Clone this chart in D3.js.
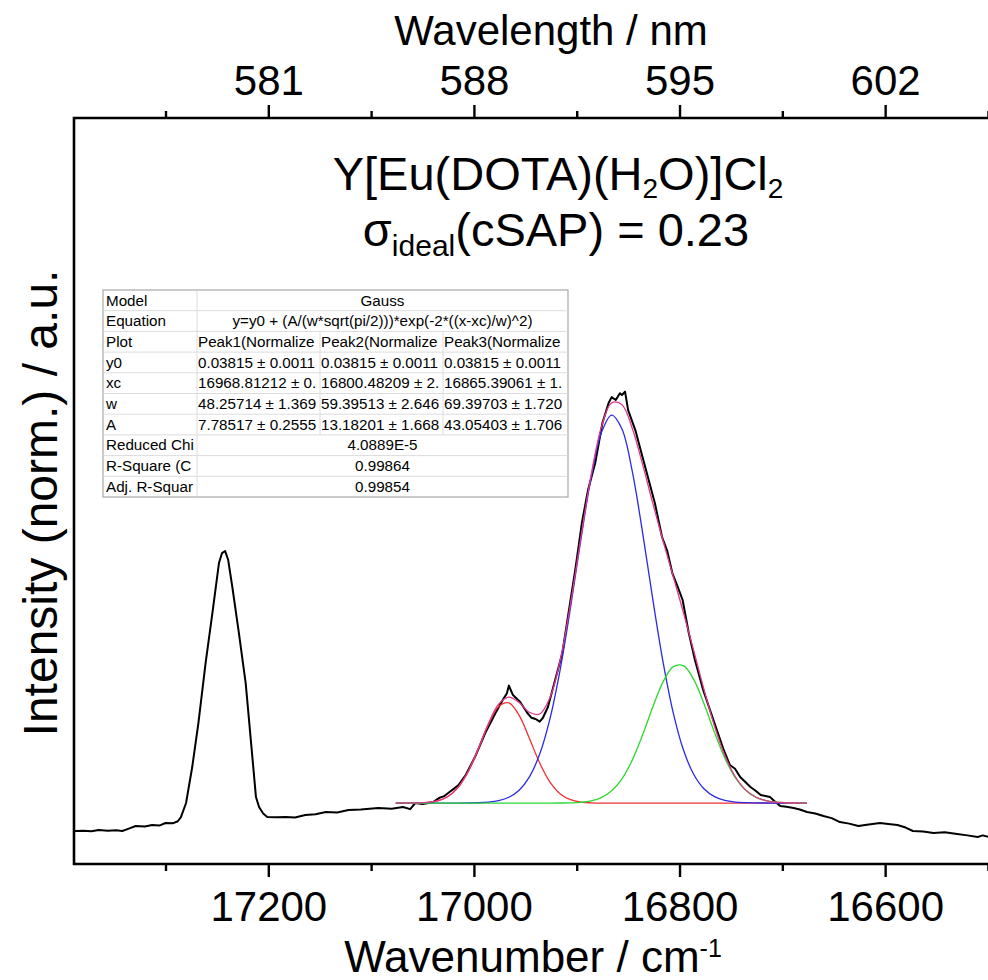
<!DOCTYPE html>
<html>
<head>
<meta charset="utf-8">
<script src="https://cdn.jsdelivr.net/npm/d3@7"></script>
<style>
  html, body { margin: 0; padding: 0; background: #fff; }
  svg { display: block; font-family: "Liberation Sans", Arial, sans-serif; }
</style>
</head>
<body>
<svg id="chart" width="988" height="980"></svg>
<script>
// ---------- data ----------
const specWn = [17388,17380,17372,17365,17356,17348,17342,17335,17329,17320,17313,17306,17300,17293,17288,17285,17280,17274,17268,17261,17254,17248,17245,17242,17239,17235,17229,17222,17217,17212,17209,17205,17201,17192,17183,17174,17164,17154,17144,17133,17122,17110,17093,17080,17069,17062,17057,17050,17044,17039,17034,17029,17025,17020,17015,17008,16999,16989,16979,16972,16968,16966,16962,16955,16948,16944,16940,16936,16933,16928,16921,16914,16908,16901,16895,16889,16882,16875,16869,16866,16862,16858,16856,16853,16850,16843,16836,16830,16824,16817,16812,16807,16802,16797,16791,16785,16777,16767,16757,16751,16746,16741,16736,16731,16726,16721,16712,16707,16702,16696,16689,16683,16676,16668,16660,16652,16644,16635,16626,16616,16605,16597,16588,16580,16573,16563,16553,16542,16530,16520,16510,16505,16499];
const specInt = [0.0026,0.0030,0.0022,0.0038,0.0030,0.0034,0.0026,0.0060,0.0089,0.0082,0.0102,0.0095,0.0128,0.0124,0.0150,0.0204,0.0383,0.0842,0.1403,0.2168,0.2844,0.3444,0.3571,0.3597,0.3482,0.3138,0.2589,0.1913,0.1186,0.0459,0.0332,0.0250,0.0204,0.0200,0.0204,0.0198,0.0230,0.0240,0.0268,0.0262,0.0293,0.0300,0.0319,0.0310,0.0332,0.0305,0.0383,0.0370,0.0383,0.0400,0.0446,0.0470,0.0510,0.0560,0.0612,0.0740,0.0969,0.1276,0.1531,0.1696,0.1780,0.1880,0.1760,0.1671,0.1531,0.1470,0.1454,0.1420,0.1467,0.1607,0.1952,0.2296,0.2806,0.3393,0.3954,0.4375,0.4719,0.5230,0.5485,0.5560,0.5523,0.5610,0.5587,0.5630,0.5395,0.5140,0.4796,0.4503,0.4209,0.3776,0.3600,0.3316,0.3150,0.2972,0.2551,0.2207,0.1824,0.1441,0.1059,0.0867,0.0820,0.0714,0.0650,0.0587,0.0540,0.0485,0.0459,0.0400,0.0344,0.0335,0.0319,0.0300,0.0268,0.0250,0.0217,0.0190,0.0140,0.0120,0.0089,0.0110,0.0128,0.0115,0.0102,0.0070,0.0026,0.0020,0.0000,0.0010,-0.0013,-0.0030,-0.0051,-0.0030,-0.0051];

// fitted curves (Gauss fit, read along the fit range)
const fitWn = [17076,17066,17056,17046,17036,17026,17016,17006,16996,16986,16976,16966,16956,16946,16936,16926,16916,16906,16896,16886,16876,16866,16856,16846,16836,16826,16816,16806,16796,16786,16776,16766,16756,16746,16736,16726,16716,16706,16696,16686,16676];
const peak1 = [0.0382,0.0382,0.0384,0.0389,0.0408,0.0459,0.0572,0.0774,0.1064,0.1380,0.1613,0.1660,0.1500,0.1206,0.0893,0.0649,0.0499,0.0425,0.0395,0.0385,0.0382,0.0382,0.0382,0.0382,0.0382,0.0382,0.0382,0.0382,0.0382,0.0382,0.0382,0.0382,0.0382,0.0382,0.0382,0.0382,0.0382,0.0382,0.0382,0.0382,0.0382];
const peak2 = [0.0382,0.0382,0.0382,0.0382,0.0382,0.0382,0.0382,0.0382,0.0382,0.0382,0.0382,0.0382,0.0382,0.0382,0.0382,0.0382,0.0383,0.0385,0.0392,0.0410,0.0452,0.0538,0.0691,0.0930,0.1249,0.1607,0.1928,0.2123,0.2133,0.1954,0.1642,0.1284,0.0958,0.0711,0.0550,0.0458,0.0413,0.0393,0.0386,0.0383,0.0382];
const peak3 = [0.0382,0.0382,0.0382,0.0382,0.0382,0.0382,0.0382,0.0383,0.0386,0.0394,0.0413,0.0456,0.0546,0.0716,0.1007,0.1460,0.2092,0.2878,0.3738,0.4532,0.5106,0.5331,0.5154,0.4616,0.3839,0.2980,0.2179,0.1526,0.1052,0.0743,0.0561,0.0464,0.0416,0.0395,0.0387,0.0384,0.0383,0.0382,0.0382,0.0382,0.0382];
const cumulative = [0.0382,0.0382,0.0384,0.0390,0.0409,0.0460,0.0572,0.0775,0.1068,0.1392,0.1644,0.1734,0.1664,0.1540,0.1518,0.1727,0.2210,0.2925,0.3762,0.4564,0.5177,0.5487,0.5463,0.5164,0.4706,0.4205,0.3725,0.3267,0.2803,0.2315,0.1821,0.1366,0.0992,0.0724,0.0554,0.0460,0.0414,0.0393,0.0386,0.0383,0.0382];

// axis ticks
const bottomMajor = [17200, 17000, 16800, 16600];
const bottomMinor = [17300, 17100, 16900, 16700, 16500];
const topMajor = [581, 588, 595, 602];
const topMinor = [577.5, 584.5, 591.5, 598.5, 605.5];

// fit table
const tableRows = ["Model","Equation","Plot","y0","xc","w","A","Reduced Chi","R-Square (C","Adj. R-Squar"];
const tableSpan = {"Model":"Gauss","Equation":"y=y0 + (A/(w*sqrt(pi/2)))*exp(-2*((x-xc)/w)^2)","Reduced Chi":"4.0889E-5","R-Square (C":"0.99864","Adj. R-Squar":"0.99854"};
const tableCols = {
  "Plot": ["Peak1(Normalize","Peak2(Normalize","Peak3(Normalize"],
  "y0":   ["0.03815 \u00b1 0.0011","0.03815 \u00b1 0.0011","0.03815 \u00b1 0.0011"],
  "xc":   ["16968.81212 \u00b1 0.","16800.48209 \u00b1 2.","16865.39061 \u00b1 1."],
  "w":    ["48.25714 \u00b1 1.369","59.39513 \u00b1 2.646","69.39703 \u00b1 1.720"],
  "A":    ["7.78517 \u00b1 0.2555","13.18201 \u00b1 1.668","43.05403 \u00b1 1.706"]
};

// ---------- layout ----------
const svg = d3.select("#chart");
const L = 74, R = 990, T = 118, B = 864;
const x = d3.scaleLinear().domain([17389, 16498]).range([L, R]);
const xTop = d3.scaleLinear().domain([574.385, 605.57]).range([L, R]);
const y = d3.scaleLinear().domain([-0.0395, 0.912]).range([B, T]);

svg.append("clipPath").attr("id","clip").append("rect")
  .attr("x", L).attr("y", T).attr("width", R - L).attr("height", B - T);

// spectrum
const specData = specWn.map((d, i) => [d, specInt[i]]);
const line = d3.line().x(d => x(d[0])).y(d => y(d[1]));
const curve = d3.line().x(d => x(d[0])).y(d => y(d[1])).curve(d3.curveCatmullRom);

const gPlot = svg.append("g").attr("clip-path","url(#clip)");
gPlot.append("path").datum(specData).attr("d", line)
  .attr("fill","none").attr("stroke","#000").attr("stroke-width",2).attr("stroke-linejoin","round");

const fits = [
  {vals: peak1, color: "#f03030"},
  {vals: peak3, color: "#2a2ae8"},
  {vals: peak2, color: "#2ed82e"},
  {vals: cumulative, color: "#e0388c"}
];
fits.forEach(f => {
  gPlot.append("path").datum(fitWn.map((d, i) => [d, f.vals[i]])).attr("d", curve)
    .attr("fill","none").attr("stroke", f.color).attr("stroke-width",1.3);
});

// frame
svg.append("path").attr("d", `M${R+5},${T}H${L}V${B}H${R+5}`)
  .attr("stroke","#000").attr("stroke-width",2.6).attr("fill","none");

// bottom axis
svg.append("g").attr("transform", `translate(0,${B})`)
  .call(d3.axisBottom(x).tickValues(bottomMajor).tickSize(13).tickPadding(14).tickFormat(d3.format("d")));
svg.append("g").attr("transform", `translate(0,${B})`)
  .call(d3.axisBottom(x).tickValues(bottomMinor).tickSize(7).tickFormat(""));
// top axis
svg.append("g").attr("transform", `translate(0,${T})`)
  .call(d3.axisTop(xTop).tickValues(topMajor).tickSize(13).tickPadding(10).tickFormat(d3.format("d")));
svg.append("g").attr("transform", `translate(0,${T})`)
  .call(d3.axisTop(xTop).tickValues(topMinor).tickSize(7).tickFormat(""));

svg.selectAll(".domain").remove();
svg.selectAll(".tick line").attr("stroke","#000").attr("stroke-width",2.4);
svg.selectAll(".tick text").attr("font-size", 42).attr("fill","#000")
  .attr("font-family", '"Liberation Sans", Arial, sans-serif');

// axis titles
svg.append("text").attr("x", 551).attr("y", 45).attr("text-anchor","middle")
  .attr("font-size", 42).text("Wavelength / nm");
const xt = svg.append("text").attr("x", 533).attr("y", 972).attr("text-anchor","middle")
  .attr("font-size", 44);
xt.append("tspan").text("Wavenumber / cm");
xt.append("tspan").attr("dy", -15).attr("font-size", 25).text("-1");

svg.append("text").attr("transform", "translate(57,503) rotate(-90)").attr("text-anchor","middle")
  .attr("font-size", 48).text("Intensity (norm.) / a.u.");

// chart title
const t1 = svg.append("text").attr("x", 558).attr("y", 190).attr("text-anchor","middle").attr("font-size", 47);
t1.append("tspan").text("Y[Eu(DOTA)(H");
t1.append("tspan").attr("dy", 8).attr("font-size", 28).text("2");
t1.append("tspan").attr("dy", -8).text("O)]Cl");
t1.append("tspan").attr("dy", 8).attr("font-size", 28).text("2");

const t2 = svg.append("text").attr("x", 556).attr("y", 246).attr("text-anchor","middle").attr("font-size", 47);
t2.append("tspan").text("\u03c3");
t2.append("tspan").attr("dy", 10).attr("font-size", 30).text("ideal");
t2.append("tspan").attr("dy", -10).text("(cSAP) = 0.23");

// fit table
const tx = 103, ty = 290, rowH = 20.7;
const colX = [103, 197, 320, 443, 568];
const tbl = svg.append("g").attr("font-size", 15.2).attr("fill","#000");
tbl.append("rect").attr("x", tx).attr("y", ty).attr("width", colX[4] - tx).attr("height", rowH * tableRows.length)
  .attr("fill","#fff").attr("stroke","#a8a8a8").attr("stroke-width",1.2);
tableRows.forEach((r, i) => {
  const yy = ty + i * rowH;
  if (i > 0) tbl.append("line").attr("x1", tx).attr("x2", colX[4]).attr("y1", yy).attr("y2", yy)
    .attr("stroke","#dcdcdc").attr("stroke-width",1);
  tbl.append("text").attr("x", tx + 3).attr("y", yy + 15.5).text(r);
  if (tableSpan[r] !== undefined) {
    tbl.append("text").attr("x", (colX[1] + colX[4]) / 2).attr("y", yy + 15.5)
      .attr("text-anchor","middle").text(tableSpan[r]);
  } else {
    tableCols[r].forEach((v, j) => {
      tbl.append("text").attr("x", colX[j + 1] + 1).attr("y", yy + 15.5).text(v);
    });
  }
});
// column separators
tbl.append("line").attr("x1", colX[1]).attr("x2", colX[1]).attr("y1", ty).attr("y2", ty + rowH * tableRows.length)
  .attr("stroke","#dcdcdc");
[2, 3].forEach(c => {
  tbl.append("line").attr("x1", colX[c]).attr("x2", colX[c]).attr("y1", ty + 2 * rowH).attr("y2", ty + 7 * rowH)
    .attr("stroke","#dcdcdc");
});
</script>
</body>
</html>
